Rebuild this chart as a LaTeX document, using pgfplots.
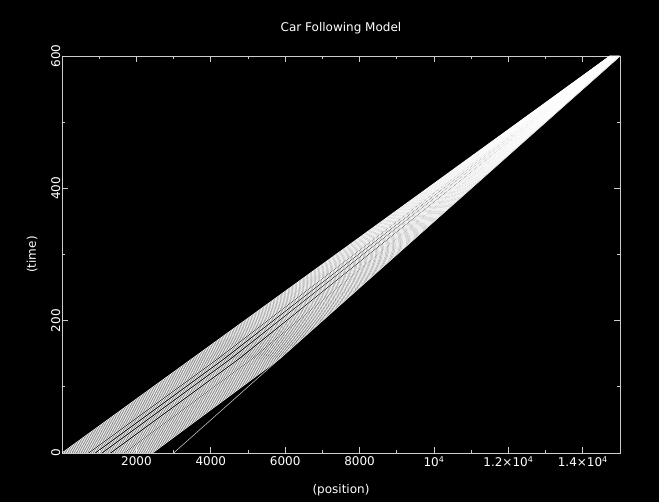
\documentclass[border=0pt]{standalone}
\usepackage{fontspec}
\setmainfont{DejaVu Sans}
\usepackage{pgfplots}
\pgfplotsset{compat=1.18}
\pgfplotsset{car/.style={white, line width=0.7pt, no marks}}
\begin{document}
\begin{tikzpicture}
\fill[black] (-62pt,-49pt) rectangle (597pt,453pt);
\begin{axis}[
  at={(0pt,0pt)}, anchor=south west,
  scale only axis, width=558pt, height=397pt,
  xmin=0, xmax=15000, ymin=0, ymax=600,
  axis line style={draw=white!80!black, line width=0.8pt},
  tick style={draw=white!80!black, line width=0.8pt},
  major tick length=6pt, minor tick length=3pt,
  tick align=inside,
  xtick={2000,4000,6000,8000,10000,12000,14000},
  xticklabels={2000,4000,6000,8000,10\textsuperscript{4},1.2×10\textsuperscript{4},1.4×10\textsuperscript{4}},
  minor xtick={1000,3000,5000,7000,9000,11000,13000},
  ytick={0,200,400,600},
  yticklabels={0,200,400,600},
  minor ytick={100,300,500},
  tick label style={font=\fontsize{12}{14}\selectfont, text=white},
  yticklabel style={rotate=90, anchor=south, inner sep=1.5pt},
  xticklabel style={inner sep=3pt},
  scaled x ticks=false,
  /pgf/number format/assume math mode=true,
]
\addplot[car] coordinates {(0,0)(3498,142.5)(14730,600)};
\addplot[car] coordinates {(49,0)(3545,142.5)(14735,600)};
\addplot[car] coordinates {(97,0)(3592,142.5)(14741,600)};
\addplot[car] coordinates {(146,0)(3639,142.5)(14746,600)};
\addplot[car] coordinates {(194,0)(3686,142.5)(14752,600)};
\addplot[car] coordinates {(243,0)(3733,142.5)(14757,600)};
\addplot[car] coordinates {(292,0)(3780,142.5)(14762,600)};
\addplot[car] coordinates {(340,0)(3827,142.5)(14768,600)};
\addplot[car] coordinates {(389,0)(3874,142.5)(14773,600)};
\addplot[car] coordinates {(437,0)(3921,142.5)(14779,600)};
\addplot[car] coordinates {(486,0)(3968,142.5)(14784,600)};
\addplot[car] coordinates {(535,0)(4015,142.5)(14789,600)};
\addplot[car] coordinates {(583,0)(4062,142.5)(14795,600)};
\addplot[car] coordinates {(632,0)(4110,142.5)(14800,600)};
\addplot[car] coordinates {(680,0)(4157,142.5)(14806,600)};
\addplot[car] coordinates {(753,0)(4227,142.5)(14814,600)};
\addplot[car] coordinates {(802,0)(4274,142.5)(14819,600)};
\addplot[car] coordinates {(851,0)(4321,142.5)(14825,600)};
\addplot[car] coordinates {(936,0)(4404,142.5)(14834,600)};
\addplot[car] coordinates {(984,0)(4451,142.5)(14839,600)};
\addplot[car] coordinates {(1033,0)(4498,142.5)(14845,600)};
\addplot[car] coordinates {(1118,0)(4580,142.5)(14854,600)};
\addplot[car] coordinates {(1166,0)(4627,142.5)(14860,600)};
\addplot[car] coordinates {(1215,0)(4674,142.5)(14865,600)};
\addplot[car] coordinates {(1264,0)(4721,142.5)(14870,600)};
\addplot[car] coordinates {(1349,0)(4803,142.5)(14880,600)};
\addplot[car] coordinates {(1397,0)(4850,142.5)(14885,600)};
\addplot[car] coordinates {(1446,0)(4897,142.5)(14891,600)};
\addplot[car] coordinates {(1494,0)(4944,142.5)(14896,600)};
\addplot[car] coordinates {(1543,0)(4991,142.5)(14901,600)};
\addplot[car] coordinates {(1592,0)(5039,142.5)(14907,600)};
\addplot[car] coordinates {(1640,0)(5086,142.5)(14912,600)};
\addplot[car] coordinates {(1701,0)(5144,142.5)(14919,600)};
\addplot[car] coordinates {(1750,0)(5191,142.5)(14924,600)};
\addplot[car] coordinates {(1798,0)(5238,142.5)(14930,600)};
\addplot[car] coordinates {(1847,0)(5286,142.5)(14935,600)};
\addplot[car] coordinates {(1895,0)(5333,142.5)(14941,600)};
\addplot[car] coordinates {(1944,0)(5380,142.5)(14946,600)};
\addplot[car] coordinates {(1993,0)(5427,142.5)(14951,600)};
\addplot[car] coordinates {(2041,0)(5474,142.5)(14957,600)};
\addplot[car] coordinates {(2090,0)(5521,142.5)(14962,600)};
\addplot[car] coordinates {(2138,0)(5568,142.5)(14968,600)};
\addplot[car] coordinates {(2187,0)(5615,142.5)(14973,600)};
\addplot[car] coordinates {(2236,0)(5662,142.5)(14978,600)};
\addplot[car] coordinates {(2284,0)(5709,142.5)(14984,600)};
\addplot[car] coordinates {(2333,0)(5756,142.5)(14989,600)};
\addplot[car] coordinates {(2381,0)(5803,142.5)(14995,600)};
\addplot[car] coordinates {(2430,0)(5850,142.5)(15000,600)};
% leader
\addplot[white!85!black, line width=0.5pt, no marks] coordinates {(3000,0)(15000,600)};
\end{axis}
\node[text=white, font=\fontsize{12}{14}\selectfont] at (279pt,425pt) {Car Following Model};
\node[text=white, font=\fontsize{12}{14}\selectfont] at (279pt,-37pt) {(position)};
\node[text=white, font=\fontsize{12}{14}\selectfont, rotate=90] at (-30pt,198.5pt) {(time)};
\end{tikzpicture}
\end{document}
